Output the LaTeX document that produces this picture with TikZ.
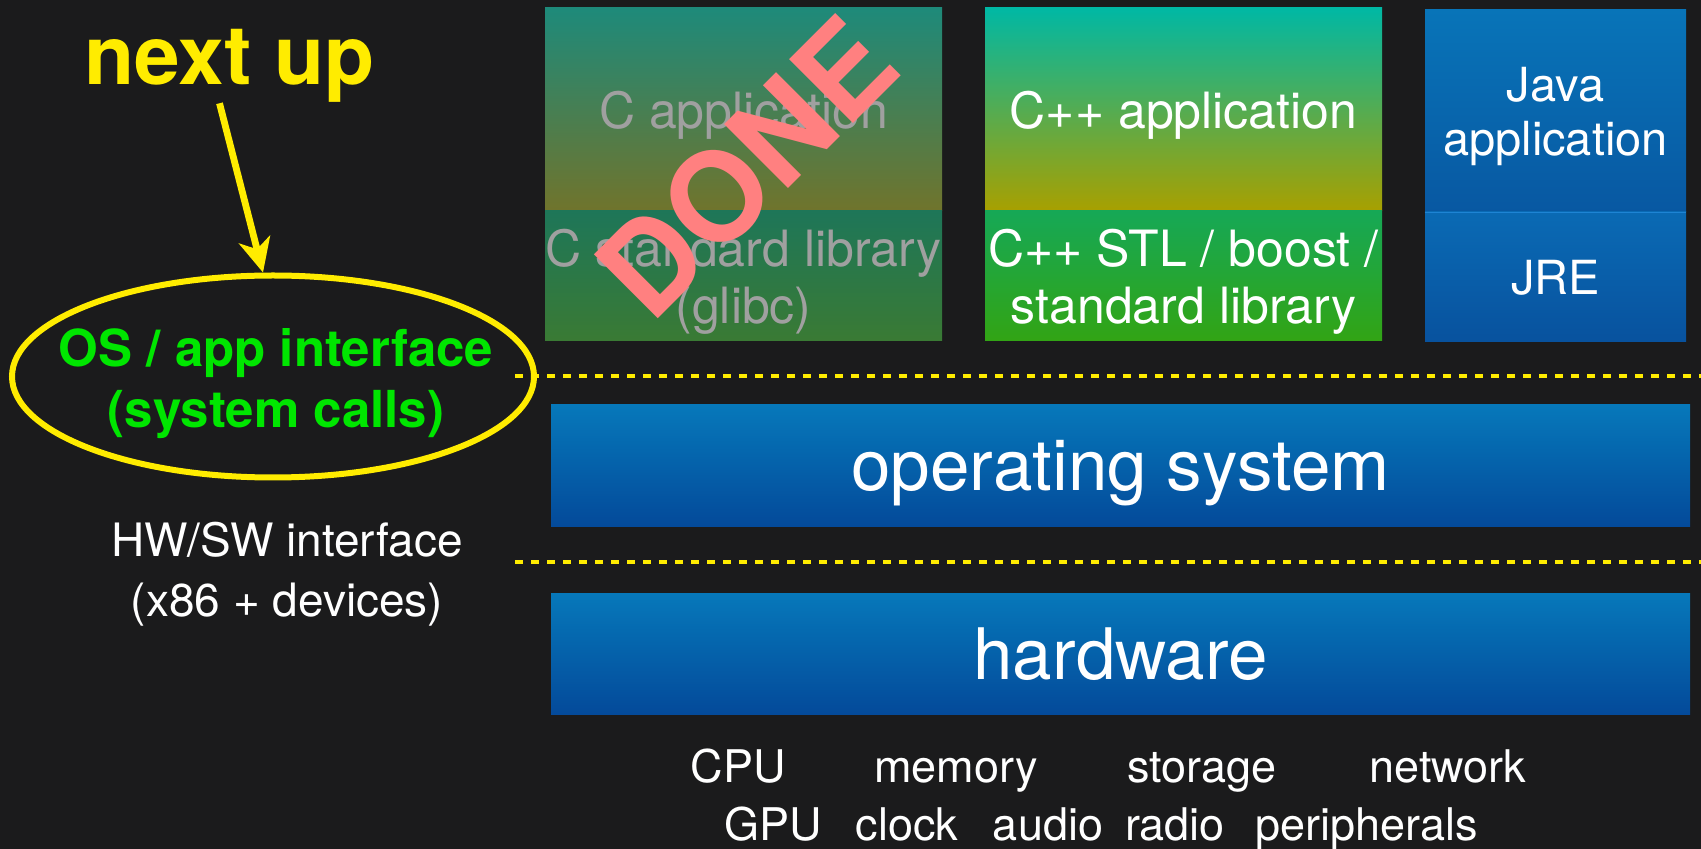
\documentclass[tikz,border=0pt]{standalone}
\usepackage{fontspec}
\setmainfont{TeX Gyre Heros}
\usetikzlibrary{shapes.geometric,arrows.meta,calc}

\definecolor{bgcol}{RGB}{27,27,28}
\definecolor{yel}{RGB}{255,236,0}
\definecolor{apigreen}{RGB}{0,230,0}
\definecolor{donepink}{RGB}{255,128,128}
\definecolor{fadetext}{RGB}{160,160,160}

\begin{document}
\begin{tikzpicture}[x=0.5pt,y=-0.5pt,>=Stealth,
  layer/.style={rectangle, inner sep=0pt, text depth=0pt, text=white, align=center, font=\fontsize{25}{28.5}\selectfont},
  bluelayer/.style={layer, top color={rgb,255:red,6;green,120;blue,186}, bottom color={rgb,255:red,4;green,74;blue,154}, minimum width=569.5pt, minimum height=60.5pt, font=\fontsize{35.5}{40}\selectfont},
  sepline/.style={yel, line width=2pt, dash pattern=on 4pt off 4pt},
  word/.style={text=white, inner sep=0pt, anchor=base, font=\fontsize{22.5}{26}\selectfont}]
  %background
  \fill[bgcol] (0,0) rectangle (1701,849);
  \useasboundingbox (0,0) rectangle (1701,849);

  % application stacks
  \node[layer, text=fadetext, minimum width=198.5pt, minimum height=101.5pt, top color={rgb,255:red,30;green,138;blue,122}, bottom color={rgb,255:red,112;green,116;blue,44}] (capp) at (743.5,109.5) {C application};
  \node[layer, text=fadetext, minimum width=198.5pt, minimum height=65pt, top color={rgb,255:red,30;green,118;blue,88}, bottom color={rgb,255:red,58;green,122;blue,52}] (clib) at (743.5,276) {C standard library\\(glibc)};
  \node[layer, minimum width=198.5pt, minimum height=101.5pt, top color={rgb,255:red,0;green,184;blue,164}, bottom color={rgb,255:red,168;green,160;blue,0}] (cppapp) at (1183.5,109.5) {C++ application};
  \node[layer, minimum width=198.5pt, minimum height=65pt, top color={rgb,255:red,22;green,168;blue,86}, bottom color={rgb,255:red,50;green,164;blue,20}] (cpplib) at (1183.5,276) {C++ STL / boost /\\standard library};
  \node[layer, font=\fontsize{23.5}{27}\selectfont, minimum width=130.5pt, minimum height=101pt, top color={rgb,255:red,8;green,116;blue,184}, bottom color={rgb,255:red,8;green,88;blue,162}] (javaapp) at (1555.5,111) {Java\\application};
  \node[layer, font=\fontsize{23.5}{27}\selectfont, minimum width=130.5pt, minimum height=65pt, top color={rgb,255:red,10;green,106;blue,180}, bottom color={rgb,255:red,8;green,82;blue,158}] (jre) at (1555.5,277) {JRE};
  \draw[line width=0.6pt, color={rgb,255:red,30;green,132;blue,212}] (javaapp.south west) -- (javaapp.south east);
  \node[rotate=45, inner sep=0pt, text=donepink, font=\bfseries\fontsize{62}{62}\selectfont] (done) at (746,167) {DONE};

  % system layers
  \node[bluelayer] (os) at (1120.5,465.5) {operating system};
  \node[bluelayer] (hw) at (1120.5,653.5) {hardware};

  % interface lines
  \coordinate (top west) at (515,376);
  \coordinate (top east) at (1701,376);
  \coordinate (low west) at (515,562);
  \coordinate (low east) at (1701,562);
  \draw[sepline] (top west) -- (top east);
  \draw[sepline] (low west) -- (low east);

  % labels on the left
  \node[ellipse, draw=yel, line width=3pt, minimum width=261pt, minimum height=101pt] (api) at (273,376.5) {};
  \node[inner sep=0pt, align=center, text=apigreen, font=\bfseries\fontsize{25.5}{30.5}\selectfont] (apitext) at (276,384) {OS / app interface\\(system calls)};
  \node[inner sep=0pt, anchor=base, text=yel, font=\bfseries\fontsize{41}{45}\selectfont] (nextup) at (229.5,85) {next up};
  \draw[yel, line width=3.4pt, -{Stealth[length=17pt,width=16pt,inset=5pt]}] ([xshift=-5pt]nextup.south) -- ([xshift=-5pt]api.north);
  \node[inner sep=0pt, align=center, text=white, font=\fontsize{23}{30}\selectfont] (hwsw) at (287,574) {HW/SW interface\\(x86 + devices)};

  % devices
  \node[word] (cpu) at (738,782) {CPU};
  \node[word] (memory) at (956,782) {memory};
  \node[word] (storage) at (1202,782) {storage};
  \node[word] (network) at (1448,782) {network};
  \node[word] (gpu) at (773,840) {GPU};
  \node[word] (clock) at (907,840) {clock};
  \node[word] (audio) at (1048,840) {audio};
  \node[word] (radio) at (1175,840) {radio};
  \node[word] (periph) at (1367,840) {peripherals};
\end{tikzpicture}
\end{document}
